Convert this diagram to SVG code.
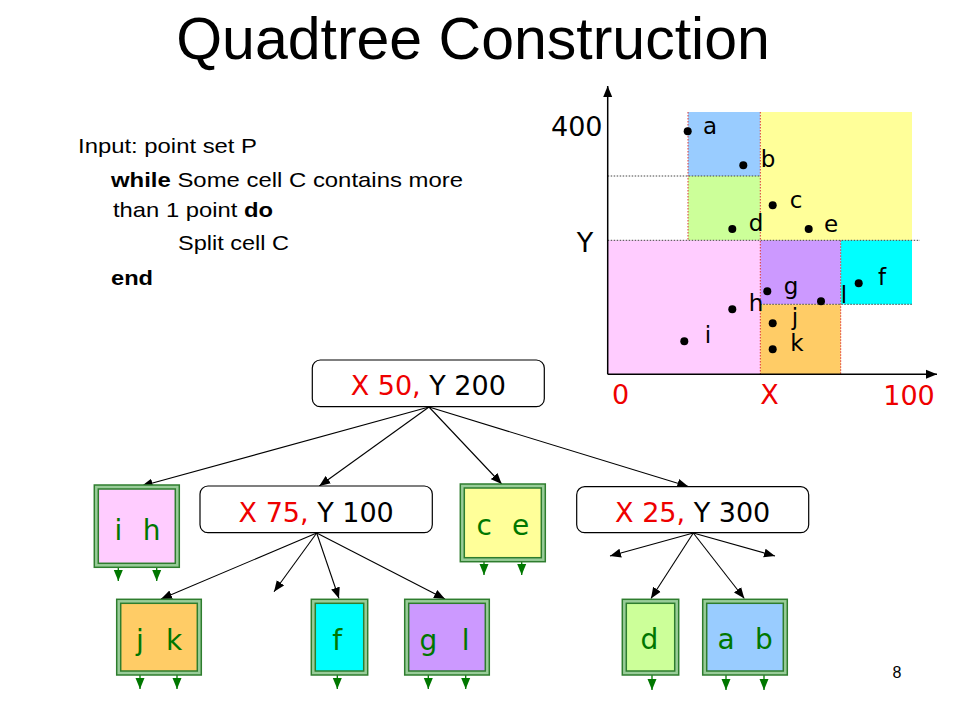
<svg xmlns="http://www.w3.org/2000/svg" width="960" height="720" viewBox="0 0 960 720">
<defs>
<marker id="ah" markerUnits="userSpaceOnUse" markerWidth="12" markerHeight="10" refX="11" refY="5" orient="auto">
<path d="M0,0.5 L11,5 L0,9.5 z" fill="#000"/>
</marker>
<marker id="gh" markerUnits="userSpaceOnUse" markerWidth="12" markerHeight="10" refX="11" refY="5" orient="auto">
<path d="M0,0.5 L11,5 L0,9.5 z" fill="#007700"/>
</marker>
</defs>
<style>
.title{font-family:"Liberation Sans",Arial,sans-serif;font-size:59px;fill:#000}
.code{font-family:"Liberation Sans",Arial,sans-serif;font-size:21px;fill:#000}
.b{font-weight:bold}
.lab{font-family:"DejaVu Sans",Verdana,sans-serif;font-size:23px;fill:#000}
.ax{font-family:"DejaVu Sans",Verdana,sans-serif;font-size:27px}
.nt{font-family:"DejaVu Sans",Verdana,sans-serif;font-size:27px;fill:#000;text-anchor:middle}
.red{fill:#ee0000}
.lt{font-family:"DejaVu Sans",Verdana,sans-serif;font-size:28px;fill:#007700;text-anchor:middle}
.node{fill:#fff;stroke:#000;stroke-width:1.2}
.outer{fill:#99cc99;stroke:#2e7d2e;stroke-width:1.5}
.inner{stroke:#2e7d2e;stroke-width:1.5}
.edge{stroke:#000;stroke-width:1.1;fill:none;marker-end:url(#ah)}
.gedge{stroke:#007700;stroke-width:1.3;fill:none;marker-end:url(#gh)}
.dk{stroke:#444;stroke-width:1;stroke-dasharray:1.5,1.5;fill:none}
.rd{stroke:#dd3333;stroke-width:1;stroke-dasharray:1.5,1.5;fill:none}
.dot{fill:#000}
</style>
<rect width="960" height="720" fill="#fff"/>

<text class="title" x="473" y="59" text-anchor="middle">Quadtree Construction</text>

<g id="pseudocode">
<text class="code" x="78" y="153" textLength="179" lengthAdjust="spacingAndGlyphs">Input: point set P</text>
<text class="code" x="111" y="187" textLength="352" lengthAdjust="spacingAndGlyphs"><tspan class="b">while</tspan> Some cell C contains more</text>
<text class="code" x="113" y="217" textLength="160" lengthAdjust="spacingAndGlyphs">than 1 point <tspan class="b">do</tspan></text>
<text class="code" x="178" y="250" textLength="111" lengthAdjust="spacingAndGlyphs">Split cell C</text>
<text class="code" x="111" y="285" textLength="42" lengthAdjust="spacingAndGlyphs" font-weight="bold">end</text>
</g>

<g id="plot">
<rect x="688" y="112" width="72.3" height="64" fill="#99ccff"/>
<rect x="760.3" y="112" width="151.7" height="128.3" fill="#ffff99"/>
<rect x="688" y="176" width="72.3" height="64.3" fill="#ccff99"/>
<rect x="607.7" y="240.3" width="152.6" height="134" fill="#ffccff"/>
<rect x="760.3" y="240.3" width="80.4" height="64" fill="#cc99ff"/>
<rect x="840.7" y="240.3" width="71.3" height="64" fill="#00ffff"/>
<rect x="760.3" y="304.3" width="80.4" height="70" fill="#ffcc66"/>
<path class="dk" d="M607.7,176 H760.3 M607.7,240.3 H920 M760.3,304.3 H912"/>
<path class="rd" d="M760.3,112 V374 M688,112 V240.3 M840.7,240.3 V374"/>
<line x1="607.7" y1="374.3" x2="607.7" y2="86" stroke="#000" stroke-width="1.5" marker-end="url(#ah)"/>
<line x1="607.7" y1="374.3" x2="937" y2="374.3" stroke="#000" stroke-width="1.5" marker-end="url(#ah)"/>
<text class="ax" x="551" y="136" fill="#000">400</text>
<text class="ax" x="585" y="252" fill="#000" text-anchor="middle">Y</text>
<text class="ax red" x="620.5" y="404" text-anchor="middle">0</text>
<text class="ax red" x="769.5" y="404" text-anchor="middle">X</text>
<text class="ax red" x="909" y="405" text-anchor="middle">100</text>
<g id="points">
<circle class="dot" cx="687.7" cy="131.3" r="4"/><text class="lab" x="710" y="134" text-anchor="middle">a</text>
<circle class="dot" cx="743.3" cy="165.3" r="4"/><text class="lab" x="768" y="167" text-anchor="middle">b</text>
<circle class="dot" cx="772.7" cy="205.3" r="4"/><text class="lab" x="796" y="208" text-anchor="middle">c</text>
<circle class="dot" cx="732.3" cy="229" r="4"/><text class="lab" x="756" y="231" text-anchor="middle">d</text>
<circle class="dot" cx="808.7" cy="229" r="4"/><text class="lab" x="831" y="232" text-anchor="middle">e</text>
<circle class="dot" cx="858.7" cy="283.3" r="4"/><text class="lab" x="882" y="285" text-anchor="middle">f</text>
<circle class="dot" cx="767.3" cy="291.3" r="4"/><text class="lab" x="791" y="294" text-anchor="middle">g</text>
<circle class="dot" cx="821" cy="301.3" r="4"/><text class="lab" x="844" y="303" text-anchor="middle">l</text>
<circle class="dot" cx="732.3" cy="309.3" r="4"/><text class="lab" x="756" y="311" text-anchor="middle">h</text>
<circle class="dot" cx="772.7" cy="323.3" r="4"/><text class="lab" x="795" y="325" text-anchor="middle">j</text>
<circle class="dot" cx="772.7" cy="349.3" r="4"/><text class="lab" x="797" y="351" text-anchor="middle">k</text>
<circle class="dot" cx="684.3" cy="341.3" r="4"/><text class="lab" x="708" y="343" text-anchor="middle">i</text>
</g>
</g>

<g id="connectors">
<line class="edge" x1="429" y1="407" x2="141.7" y2="486"/>
<line class="edge" x1="429" y1="407" x2="319.3" y2="486"/>
<line class="edge" x1="429" y1="407" x2="501.7" y2="484"/>
<line class="edge" x1="429" y1="407" x2="688.3" y2="486.5"/>
<line class="edge" x1="316.7" y1="533" x2="161" y2="599"/>
<line class="edge" x1="316.7" y1="533" x2="274" y2="591.7"/>
<line class="edge" x1="316.7" y1="533" x2="339" y2="598.5"/>
<line class="edge" x1="316.7" y1="533" x2="445" y2="599"/>
<line class="edge" x1="693.3" y1="533" x2="610" y2="556"/>
<line class="edge" x1="693.3" y1="533" x2="775" y2="556"/>
<line class="edge" x1="693.3" y1="533" x2="651" y2="598.5"/>
<line class="edge" x1="693.3" y1="533" x2="744.3" y2="598.5"/>
<line class="gedge" x1="118.3" y1="550" x2="118.3" y2="581"/>
<line class="gedge" x1="156.7" y1="550" x2="156.7" y2="581"/>
<line class="gedge" x1="484" y1="547" x2="484" y2="575"/>
<line class="gedge" x1="521.7" y1="547" x2="521.7" y2="575"/>
<line class="gedge" x1="140" y1="660" x2="140" y2="689"/>
<line class="gedge" x1="177" y1="660" x2="177" y2="689"/>
<line class="gedge" x1="337.3" y1="662" x2="337.3" y2="689"/>
<line class="gedge" x1="428.3" y1="660" x2="428.3" y2="689"/>
<line class="gedge" x1="465.7" y1="660" x2="465.7" y2="689"/>
<line class="gedge" x1="652" y1="663" x2="652" y2="690"/>
<line class="gedge" x1="726" y1="660" x2="726" y2="690"/>
<line class="gedge" x1="764" y1="660" x2="764" y2="690"/>
</g>

<g id="node-root">
<rect class="node" x="312.3" y="360" width="232" height="46.7" rx="8"/>
<text class="nt" x="428.3" y="395"><tspan class="red">X 50,</tspan> Y 200</text>
</g>
<g id="node-x75">
<rect class="node" x="200" y="486" width="232.3" height="46.7" rx="8"/>
<text class="nt" x="316.2" y="521.7"><tspan class="red">X 75,</tspan> Y 100</text>
</g>
<g id="node-x25">
<rect class="node" x="576.7" y="486.7" width="232" height="46" rx="8"/>
<text class="nt" x="692.7" y="521.7"><tspan class="red">X 25,</tspan> Y 300</text>
</g>

<g id="leaf-ih">
<rect class="outer" x="94.3" y="485" width="85" height="82.3"/>
<rect class="inner" x="98.3" y="489" width="77" height="74.3" fill="#ffccff"/>
<text class="lt" y="540"><tspan x="118.3">i</tspan><tspan x="151.7">h</tspan></text>
</g>
<g id="leaf-ce">
<rect class="outer" x="460.3" y="484" width="85" height="77.7"/>
<rect class="inner" x="464.3" y="488" width="77" height="69.7" fill="#ffff99"/>
<text class="lt" y="535"><tspan x="484.3">c</tspan><tspan x="520.7">e</tspan></text>
</g>
<g id="leaf-jk">
<rect class="outer" x="116.7" y="599.3" width="84.6" height="75.7"/>
<rect class="inner" x="120.7" y="603.3" width="76.6" height="67.7" fill="#ffcc66"/>
<text class="lt" y="650"><tspan x="140">j</tspan><tspan x="174">k</tspan></text>
</g>
<g id="leaf-f">
<rect class="outer" x="311.3" y="599.3" width="56.4" height="75.7"/>
<rect class="inner" x="315.3" y="603.3" width="48.4" height="67.7" fill="#00ffff"/>
<text class="lt" x="337.3" y="650">f</text>
</g>
<g id="leaf-gl">
<rect class="outer" x="404.7" y="599.3" width="84.6" height="75.7"/>
<rect class="inner" x="408.7" y="603.3" width="76.6" height="67.7" fill="#cc99ff"/>
<text class="lt" y="650"><tspan x="428.3">g</tspan><tspan x="465.7">l</tspan></text>
</g>
<g id="leaf-d">
<rect class="outer" x="622.3" y="599.3" width="56.4" height="75.7"/>
<rect class="inner" x="626.3" y="603.3" width="48.4" height="67.7" fill="#ccff99"/>
<text class="lt" x="649.3" y="649">d</text>
</g>
<g id="leaf-ab">
<rect class="outer" x="702.7" y="599.3" width="84.6" height="75.7"/>
<rect class="inner" x="706.7" y="603.3" width="76.6" height="67.7" fill="#99ccff"/>
<text class="lt" y="649"><tspan x="726">a</tspan><tspan x="764">b</tspan></text>
</g>

<text x="897" y="678" font-family="'Liberation Sans',Arial,sans-serif" font-size="16" text-anchor="middle" fill="#000">8</text>
</svg>
